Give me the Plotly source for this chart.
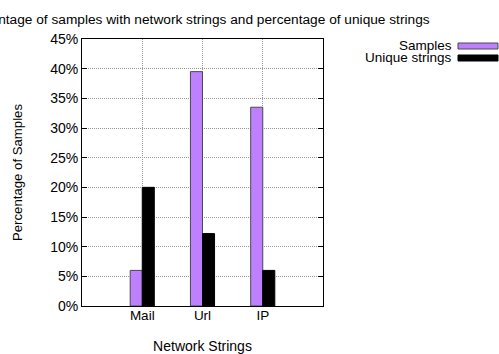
import plotly.graph_objects as go

categories = ["Mail", "Url", "IP"]
samples = [6.0, 39.5, 33.5]
unique_strings = [20.0, 12.2, 6.0]
y_ticks = [0, 5, 10, 15, 20, 25, 30, 35, 40, 45]
y_tick_labels = [f"{v}%" for v in y_ticks]

FONT = "Liberation Sans, Arial, sans-serif"
PURPLE = "#bf80ff"

L, R, T, B = 82, 176, 39, 48
W, H = 499, 354
pw, ph = W - L - R, H - T - B

fig = go.Figure()
fig.add_bar(x=categories, y=samples, name="Samples",
            marker=dict(color=PURPLE, line=dict(color="#4a4a4a", width=1)),
            showlegend=False)
fig.add_bar(x=categories, y=unique_strings, name="Unique strings",
            marker=dict(color="black", line=dict(color="black", width=1)),
            showlegend=False)

grid = dict(showgrid=True, gridcolor="#999999", griddash="1px,1px", gridwidth=1)

fig.update_layout(
    width=W, height=H,
    margin=dict(l=L, r=R, t=T, b=B, autoexpand=False),
    paper_bgcolor="white", plot_bgcolor="white",
    barmode="group", bargap=0.6, bargroupgap=0,
    font=dict(family=FONT, size=14, color="black"),
    title=dict(text="Percentage of samples with network strings and percentage of unique strings",
               x=(196 - L) / pw, xanchor="center", xref="paper", y=1 - 19.5 / H, yanchor="middle",
               font=dict(family=FONT, size=13.7, color="black")),
    xaxis=dict(range=[-1, 3], tickmode="array", tickvals=[0, 1, 2], ticktext=categories,
               showline=True, linecolor="black", linewidth=1, mirror=True,
               ticks="", automargin=False, tickfont=dict(size=13.5), ticklabelstandoff=-3,
               title=dict(text="Network Strings", standoff=25, font=dict(size=14)),
               zeroline=False, **grid),
    yaxis=dict(range=[0, 45], tickmode="array", tickvals=y_ticks, ticktext=y_tick_labels,
               showline=True, linecolor="black", linewidth=1, mirror="allticks",
               ticks="inside", ticklen=5, tickcolor="black", automargin=False,
               tickfont=dict(size=14),
               title=dict(text="Percentage of Samples", standoff=24, font=dict(size=13.2)),
               zeroline=False, **grid),
)

# legend (gnuplot style: text right-aligned, swatch to the right), positions in pixels
legend_items = [("Samples", PURPLE, "#4a4a4a"), ("Unique strings", "black", "black")]
for i, (label, fill, edge) in enumerate(legend_items):
    yc = 46 + i * 12
    fig.add_annotation(x=(453 - L) / pw, y=(H - B - yc) / ph, xref="paper", yref="paper",
                       text=label, showarrow=False, xanchor="right", yanchor="middle",
                       borderpad=0, font=dict(family=FONT, size=13.5))
    fig.add_shape(type="rect", xref="paper", yref="paper",
                  x0=(458 - L) / pw, x1=(498 - L) / pw,
                  y0=(H - B - (yc + 3)) / ph, y1=(H - B - (yc - 3)) / ph,
                  fillcolor=fill, line=dict(color=edge, width=1))

fig.write_html("out.html", config={"displayModeBar": False},
               post_script="document.body.style.margin='0px';")
